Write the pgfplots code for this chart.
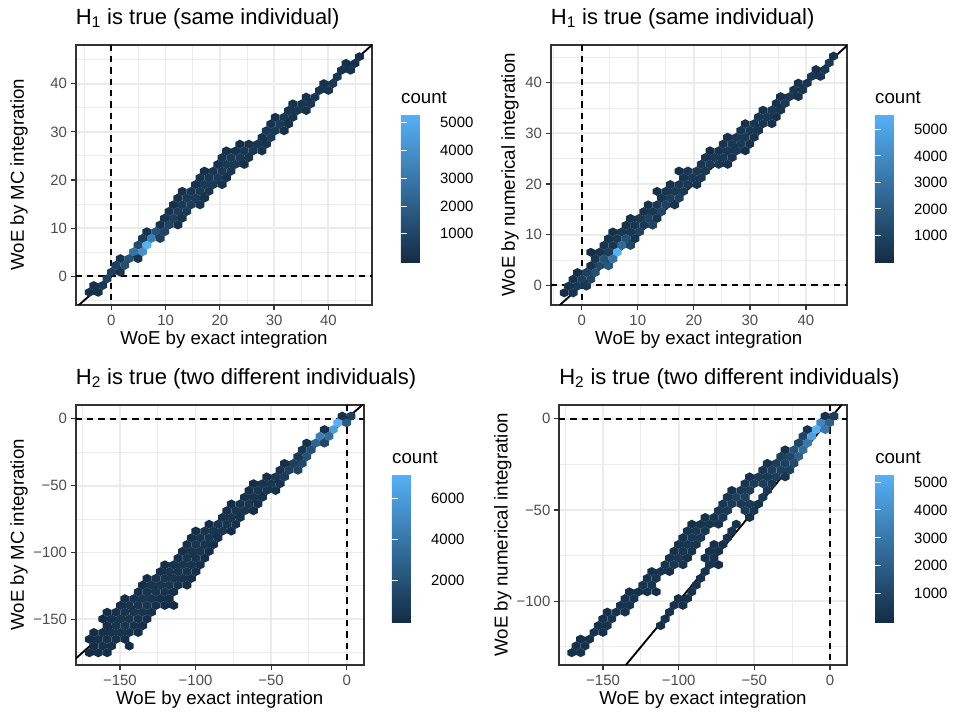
\documentclass[border=0pt]{standalone}
\usepackage{fontspec}
\setmainfont{Liberation Sans}
\usepackage{pgfplots}
\pgfplotsset{compat=1.18}
\definecolor{gmaj}{HTML}{EBEBEB}
\definecolor{gbord}{HTML}{333333}
\definecolor{gtxt}{HTML}{4D4D4D}
\pgfdeclareplotmark{hex}{%
  \pgfpathmoveto{\pgfqpoint{0pt}{3.38pt}}%
  \pgfpathlineto{\pgfqpoint{3.32pt}{1.69pt}}%
  \pgfpathlineto{\pgfqpoint{3.32pt}{-1.69pt}}%
  \pgfpathlineto{\pgfqpoint{0pt}{-3.38pt}}%
  \pgfpathlineto{\pgfqpoint{-3.32pt}{-1.69pt}}%
  \pgfpathlineto{\pgfqpoint{-3.32pt}{1.69pt}}%
  \pgfpathclose\pgfusepathqfill}
\newcommand{\tfont}{\fontsize{11.2}{13}\selectfont}
\newcommand{\afont}{\fontsize{14}{16}\selectfont}
\pgfplotsset{
  gg/.style={
    scale only axis, anchor=south west, height=195.2pt,
    axis line style={gbord,line width=1.36pt},
    tick pos=lower, tick align=outside,
    major tick length=3.5pt, minor tick length=0pt,
    major tick style={gbord,line width=0.9pt},
    grid=both,
    major grid style={gmaj,line width=1.36pt},
    minor grid style={gmaj,line width=0.68pt},
    xticklabel style={font=\tfont,text=gtxt,inner sep=0pt,yshift=-4pt},
    yticklabel style={font=\tfont,text=gtxt,inner sep=0pt,xshift=-2.8pt},
    xlabel={WoE by exact integration},
    xlabel style={font=\afont,inner sep=0pt,anchor=base,at={([yshift=-30pt]axis description cs:0.5,0)}},
    title style={font=\fontsize{16.5}{20}\selectfont,inner sep=0pt,anchor=base west,at={([yshift=9.4pt]axis description cs:0,1)}},
    colormap={gg}{rgb255=(19,43,67) rgb255=(86,177,247)},
    colormap name=gg,
    colorbar,
    colorbar shift/.style={},
  },
  cb/.style n args={2}{
    scale only axis, width=22.5pt, height=111.5pt,
    at={(parent axis.north east)}, anchor=north west, xshift=#1, yshift=-52pt,
    axis line style={draw=none},
    ytick=#2, yticklabels=#2,
    tick align=inside, ytick pos=both, yticklabel pos=right,
    major tick length=4.5pt,
    major tick style={white,line width=0.75pt},
    yticklabel style={font=\tfont,inner sep=0pt,xshift=6.7pt,anchor=west},
    title={count},
    title style={font=\afont,inner sep=0pt,anchor=base west,at={([yshift=1.75pt]axis description cs:0,1)}},
  },
  hexes/.style={scatter,only marks,mark=hex,scatter src=explicit,forget plot},
  ref/.style={black,line width=1.4pt,no markers,forget plot},
  dsh/.style={black,line width=1.4pt,dash pattern=on 4.8pt off 3.7pt,no markers,forget plot},
}
\begin{document}
\begin{tikzpicture}
\path[use as bounding box] (0pt,0pt) rectangle (715.5pt,535.5pt);
% ---------- panel 1 ----------
\begin{axis}[gg,at={(56.78pt,306.75pt)},width=222.45pt,
  xmin=-6.56,xmax=48.1,ymin=-5.96,ymax=48.1,
  xtick={0,10,20,30,40},xticklabels={0,10,20,30,40},
  ytick={0,10,20,30,40},yticklabels={0,10,20,30,40},
  minor xtick={-5,5,15,25,35,45},minor ytick={-5,5,15,25,35,45},
  ylabel={WoE by MC integration},
  ylabel style={font=\afont,inner sep=0pt,anchor=base,at={([xshift=-38.8pt]axis description cs:0,0.5)}},
  title={H\textsubscript{1} is true (same individual)},
  point meta min=-40,point meta max=5312,
  colorbar style={cb={21.5pt}{{1000,2000,3000,4000,5000}}},
]
\addplot[hexes] table[meta=c]{
x y c
45.71 45.61 100
44.89 44.21 250
43.26 44.21 150
44.08 42.81 300
42.45 42.81 250
41.63 41.42 400
40.82 40.02 400
39.18 40.02 200
40.00 38.62 350
38.37 38.62 300
37.55 37.22 450
35.92 37.22 200
36.74 35.82 400
35.11 35.82 350
33.47 35.82 150
35.92 34.43 250
34.29 34.43 450
32.66 34.43 300
33.47 33.03 300
31.84 33.03 400
30.21 33.03 200
32.66 31.63 200
31.03 31.63 500
29.40 31.63 300
31.84 30.23 200
30.21 30.23 500
28.58 30.23 450
29.40 28.83 550
27.76 28.83 300
28.58 27.44 300
26.95 27.44 350
25.32 27.44 250
23.69 27.44 150
27.76 26.04 250
26.13 26.04 400
24.50 26.04 400
22.87 26.04 300
21.24 26.04 150
25.32 24.64 350
23.69 24.64 500
22.05 24.64 500
20.42 24.64 250
24.50 23.24 200
22.87 23.24 500
21.24 23.24 500
19.61 23.24 200
22.05 21.84 400
20.42 21.84 500
18.79 21.84 400
17.16 21.84 150
21.24 20.45 250
19.61 20.45 500
17.98 20.45 450
16.34 20.45 250
20.42 19.05 200
18.79 19.05 550
17.16 19.05 500
15.53 19.05 250
17.98 17.65 350
16.34 17.65 500
14.71 17.65 450
13.08 17.65 200
17.16 16.25 200
15.53 16.25 550
13.90 16.25 500
12.27 16.25 200
16.34 14.85 200
14.71 14.85 600
13.08 14.85 500
11.45 14.85 200
13.90 13.46 500
12.27 13.46 650
10.63 13.46 300
13.08 12.06 350
11.45 12.06 800
9.82 12.06 250
12.27 10.66 200
10.63 10.66 900
9.00 10.66 250
9.82 9.26 900
8.19 9.26 1500
6.56 9.26 200
9.00 7.86 800
7.37 7.86 3200
5.74 7.86 600
6.56 6.47 5300
4.93 6.47 1200
5.74 5.07 4000
4.11 5.07 2800
4.93 3.67 300
3.29 3.67 1500
1.66 3.67 300
2.48 2.27 1300
0.85 2.27 800
1.66 0.87 300
0.03 0.87 700
-0.79 -0.52 800
-1.60 -1.92 400
-3.23 -1.92 200
-2.42 -3.32 200
-4.05 -3.32 150
};
\addplot[ref] coordinates {(-6.56,-6.56)(48.1,48.1)};
\addplot[dsh] coordinates {(-6.56,0)(48.1,0)};
\addplot[dsh] coordinates {(0,48.1)(0,-5.96)};
\end{axis}
% ---------- panel 2 ----------
\begin{axis}[gg,at={(413pt,306.75pt)},width=222.2pt,
  xmin=-5.53,xmax=47.3,ymin=-3.88,ymax=47.5,
  xtick={0,10,20,30,40},xticklabels={0,10,20,30,40},
  ytick={0,10,20,30,40},yticklabels={0,10,20,30,40},
  minor xtick={-5,5,15,25,35,45},minor ytick={5,15,25,35,45},
  ylabel={WoE by numerical integration},
  ylabel style={font=\afont,inner sep=0pt,anchor=base,at={([xshift=-26.8pt]axis description cs:0,0.5)}},
  title={H\textsubscript{1} is true (same individual)},
  point meta min=-31,point meta max=5579,
  colorbar style={cb={21pt}{{1000,2000,3000,4000,5000}}},
]
\addplot[hexes] table[meta=c]{
x y c
44.93 45.26 300
44.14 43.92 500
43.36 42.59 400
41.78 42.59 150
42.57 41.25 300
41.00 41.25 400
40.21 39.92 400
38.63 39.92 200
39.42 38.58 400
37.84 38.58 350
38.63 37.25 200
37.06 37.25 450
35.48 37.25 200
36.27 35.91 500
34.69 35.91 300
35.48 34.58 300
33.91 34.58 500
32.33 34.58 200
34.69 33.24 200
33.12 33.24 500
31.54 33.24 400
33.91 31.91 200
32.33 31.91 400
30.76 31.91 450
29.18 31.91 200
31.54 30.57 350
29.97 30.57 500
28.39 30.57 400
30.76 29.23 300
29.18 29.23 550
27.61 29.23 450
26.03 29.23 200
29.97 27.90 200
28.39 27.90 550
26.82 27.90 500
25.24 27.90 300
29.18 26.56 150
27.61 26.56 500
26.03 26.56 450
24.46 26.56 350
22.88 26.56 150
26.82 25.23 350
25.24 25.23 500
23.67 25.23 500
22.09 25.23 300
26.03 23.89 200
24.46 23.89 450
22.88 23.89 550
21.31 23.89 350
22.09 22.56 500
20.52 22.56 500
18.94 22.56 400
17.37 22.56 150
21.31 21.22 500
19.73 21.22 500
18.16 21.22 300
20.52 19.89 300
18.94 19.89 500
17.37 19.89 450
15.79 19.89 200
18.16 18.55 500
16.58 18.55 500
15.01 18.55 350
13.43 18.55 150
17.37 17.22 800
15.79 17.22 700
14.22 17.22 400
16.58 15.88 300
15.01 15.88 900
13.43 15.88 450
11.86 15.88 200
14.22 14.54 1000
12.64 14.54 500
11.07 14.54 300
13.43 13.21 300
11.86 13.21 900
10.28 13.21 500
8.71 13.21 200
12.64 11.87 1000
11.07 11.87 500
9.49 11.87 350
7.92 11.87 200
10.28 10.54 900
8.71 10.54 500
7.13 10.54 450
5.56 10.54 200
9.49 9.20 300
7.92 9.20 1500
6.34 9.20 500
4.77 9.20 300
8.71 7.87 1000
7.13 7.87 2500
5.56 7.87 400
3.98 7.87 350
6.34 6.53 5500
4.77 6.53 700
3.19 6.53 350
1.62 6.53 150
5.56 5.20 3000
3.98 5.20 1500
2.41 5.20 350
4.77 3.86 1800
3.19 3.86 1200
1.62 3.86 300
2.41 2.53 1500
0.83 2.53 800
-0.75 2.53 150
1.62 1.19 900
0.04 1.19 800
-1.53 1.19 250
0.83 -0.15 500
-0.75 -0.15 500
-2.32 -0.15 250
-1.53 -1.48 300
-3.11 -1.48 150
};
\addplot[ref] coordinates {(-5.53,-5.53)(47.5,47.5)};
\addplot[dsh] coordinates {(-5.53,0)(47.3,0)};
\addplot[dsh] coordinates {(0,47.5)(0,-3.88)};
\end{axis}
% ---------- panel 3 ----------
\begin{axis}[gg,at={(56.78pt,36.75pt)},width=216pt,
  xmin=-179.3,xmax=11.25,ymin=-184.1,ymax=10.47,
  xtick={-150,-100,-50,0},xticklabels={−150,−100,−50,0},
  ytick={-150,-100,-50,0},yticklabels={−150,−100,−50,0},
  minor xtick={-175,-125,-75,-25},minor ytick={-175,-125,-75,-25},
  ylabel={WoE by MC integration},
  ylabel style={font=\afont,inner sep=0pt,anchor=base,at={([xshift=-38.8pt]axis description cs:0,0.5)}},
  title={H\textsubscript{2} is true (two different individuals)},
  point meta min=-32,point meta max=7161,
  colorbar style={cb={21.2pt}{{2000,4000,6000}}},
]
\addplot[hexes] table[meta=c]{
x y c
2.87 1.99 1000
-3.00 1.99 300
-0.07 -3.07 2500
-5.93 -3.07 7100
-8.87 -8.12 6000
-14.74 -8.12 300
-11.80 -13.18 3500
-17.67 -13.18 4500
-14.74 -18.23 1500
-20.60 -18.23 3000
-26.47 -18.23 200
-23.54 -23.29 2000
-29.41 -23.29 600
-26.47 -28.35 2000
-32.34 -28.35 700
-29.41 -33.40 1500
-35.27 -33.40 1000
-41.14 -33.40 200
-32.34 -38.46 1200
-38.21 -38.46 1000
-44.08 -38.46 400
-41.14 -43.51 800
-47.01 -43.51 600
-52.88 -43.51 200
-44.08 -48.57 400
-49.94 -48.57 550
-55.81 -48.57 350
-61.68 -48.57 150
-47.01 -53.63 300
-52.88 -53.63 500
-58.75 -53.63 450
-64.61 -53.63 250
-55.81 -58.68 300
-61.68 -58.68 500
-67.55 -58.68 300
-58.75 -63.74 300
-64.61 -63.74 500
-70.48 -63.74 400
-76.35 -63.74 150
-61.68 -68.79 150
-67.55 -68.79 500
-73.42 -68.79 450
-79.28 -68.79 250
-70.48 -73.85 300
-76.35 -73.85 500
-82.22 -73.85 350
-73.42 -78.91 250
-79.28 -78.91 500
-85.15 -78.91 450
-91.02 -78.91 150
-76.35 -83.96 150
-82.22 -83.96 450
-88.09 -83.96 500
-93.95 -83.96 350
-99.82 -83.96 150
-85.15 -89.02 300
-91.02 -89.02 500
-96.89 -89.02 450
-102.76 -89.02 200
-88.09 -94.07 250
-93.95 -94.07 500
-99.82 -94.07 500
-105.69 -94.07 250
-91.02 -99.13 150
-96.89 -99.13 450
-102.76 -99.13 500
-108.62 -99.13 300
-93.95 -104.19 150
-99.82 -104.19 400
-105.69 -104.19 500
-111.56 -104.19 250
-96.89 -109.24 200
-102.76 -109.24 400
-108.62 -109.24 500
-114.49 -109.24 400
-120.36 -109.24 150
-99.82 -114.30 150
-105.69 -114.30 350
-111.56 -114.30 500
-117.43 -114.30 450
-123.29 -114.30 250
-102.76 -119.35 150
-108.62 -119.35 300
-114.49 -119.35 500
-120.36 -119.35 500
-126.23 -119.35 400
-132.10 -119.35 150
-105.69 -124.41 150
-111.56 -124.41 300
-117.43 -124.41 450
-123.29 -124.41 500
-129.16 -124.41 450
-135.03 -124.41 200
-114.49 -129.47 200
-120.36 -129.47 400
-126.23 -129.47 500
-132.10 -129.47 500
-137.96 -129.47 250
-117.43 -134.52 200
-123.29 -134.52 300
-129.16 -134.52 450
-135.03 -134.52 500
-140.90 -134.52 400
-146.77 -134.52 150
-114.49 -139.58 100
-120.36 -139.58 150
-126.23 -139.58 300
-132.10 -139.58 450
-137.96 -139.58 500
-143.83 -139.58 450
-149.70 -139.58 200
-129.16 -144.63 300
-135.03 -144.63 450
-140.90 -144.63 500
-146.77 -144.63 400
-152.63 -144.63 300
-158.50 -144.63 150
-132.10 -149.69 200
-137.96 -149.69 350
-143.83 -149.69 450
-149.70 -149.69 500
-155.57 -149.69 300
-161.44 -149.69 100
-135.03 -154.75 200
-140.90 -154.75 350
-146.77 -154.75 450
-152.63 -154.75 450
-158.50 -154.75 200
-137.96 -159.80 150
-143.83 -159.80 300
-149.70 -159.80 400
-155.57 -159.80 400
-161.44 -159.80 250
-167.30 -159.80 100
-146.77 -164.86 150
-152.63 -164.86 300
-158.50 -164.86 350
-164.37 -164.86 300
-170.24 -164.86 100
-143.83 -169.91 80
-155.57 -169.91 250
-161.44 -169.91 300
-167.30 -169.91 200
-158.50 -174.97 150
-164.37 -174.97 200
-170.24 -174.97 120
};
\addplot[ref] coordinates {(-184.1,-184.1)(11.25,11.25)};
\addplot[dsh] coordinates {(-179.3,0)(11.25,0)};
\addplot[dsh] coordinates {(0,10.47)(0,-184.1)};
\end{axis}
% ---------- panel 4 ----------
\begin{axis}[gg,at={(419.25pt,36.75pt)},width=216pt,
  xmin=-179.1,xmax=11.2,ymin=-134.9,ymax=7.66,
  xtick={-150,-100,-50,0},xticklabels={−150,−100,−50,0},
  ytick={-100,-50,0},yticklabels={−100,−50,0},
  minor xtick={-175,-125,-75,-25},minor ytick={-125,-75,-25},
  ylabel={WoE by numerical integration},
  ylabel style={font=\afont,inner sep=0pt,anchor=base,at={([xshift=-38.5pt]axis description cs:0,0.5)}},
  title={H\textsubscript{2} is true (two different individuals)},
  point meta min=-39,point meta max=5287,
  colorbar style={cb={21pt}{{1000,2000,3000,4000,5000}}},
]
\addplot[hexes] table[meta=c]{
x y c
-3.23 1.46 200
2.64 1.46 600
-6.17 -2.24 3500
-0.30 -2.24 2000
-14.99 -5.95 300
-9.11 -5.95 5200
-3.23 -5.95 3000
-17.92 -9.65 900
-12.05 -9.65 4500
-20.86 -13.35 1000
-14.99 -13.35 3000
-29.67 -17.06 150
-23.80 -17.06 1500
-17.92 -17.06 2500
-32.61 -20.76 700
-26.74 -20.76 1000
-20.86 -20.76 2000
-41.43 -24.46 200
-35.55 -24.46 700
-29.67 -24.46 800
-23.80 -24.46 1200
-44.36 -28.16 400
-38.49 -28.16 650
-32.61 -28.16 800
-26.74 -28.16 800
-53.18 -31.87 200
-47.30 -31.87 500
-41.43 -31.87 500
-35.55 -31.87 700
-29.67 -31.87 300
-56.12 -35.57 350
-50.24 -35.57 650
-44.36 -35.57 600
-38.49 -35.57 400
-64.93 -39.27 200
-59.05 -39.27 500
-53.18 -39.27 600
-41.43 -39.27 400
-67.87 -42.98 350
-61.99 -42.98 800
-56.12 -42.98 700
-44.36 -42.98 400
-70.81 -46.68 400
-64.93 -46.68 500
-59.05 -46.68 400
-53.18 -46.68 500
-47.30 -46.68 300
-73.74 -50.38 400
-67.87 -50.38 500
-56.12 -50.38 500
-50.24 -50.38 350
-82.56 -54.09 200
-76.68 -54.09 350
-70.81 -54.09 450
-53.18 -54.09 200
-91.37 -57.79 150
-85.50 -57.79 300
-79.62 -57.79 300
-73.74 -57.79 250
-61.99 -57.79 300
-94.31 -61.49 300
-88.43 -61.49 400
-82.56 -61.49 350
-64.93 -61.49 300
-97.25 -65.19 300
-91.37 -65.19 450
-85.50 -65.19 400
-67.87 -65.19 250
-100.19 -68.90 250
-94.31 -68.90 450
-88.43 -68.90 300
-76.68 -68.90 150
-70.81 -68.90 200
-103.12 -72.60 150
-97.25 -72.60 350
-91.37 -72.60 200
-79.62 -72.60 200
-73.74 -72.60 200
-106.06 -76.30 300
-100.19 -76.30 400
-94.31 -76.30 150
-82.56 -76.30 200
-76.68 -76.30 200
-109.00 -80.01 300
-103.12 -80.01 400
-97.25 -80.01 200
-79.62 -80.01 300
-73.74 -80.01 100
-117.81 -83.71 150
-111.94 -83.71 300
-106.06 -83.71 200
-82.56 -83.71 250
-120.75 -87.41 250
-114.88 -87.41 300
-85.50 -87.41 200
-123.69 -91.12 300
-117.81 -91.12 300
-88.43 -91.12 250
-132.50 -94.82 150
-126.63 -94.82 200
-120.75 -94.82 300
-114.88 -94.82 100
-91.37 -94.82 250
-135.44 -98.52 250
-129.57 -98.52 300
-100.19 -98.52 150
-94.31 -98.52 250
-138.38 -102.22 300
-132.50 -102.22 300
-103.12 -102.22 250
-97.25 -102.22 150
-147.19 -105.93 100
-141.32 -105.93 300
-135.44 -105.93 200
-106.06 -105.93 250
-150.13 -109.63 250
-144.26 -109.63 300
-109.00 -109.63 200
-153.07 -113.33 200
-147.19 -113.33 250
-111.94 -113.33 150
-156.01 -117.04 250
-150.13 -117.04 200
-164.82 -120.74 100
-158.95 -120.74 200
-167.76 -124.44 250
-161.88 -124.44 200
-170.70 -128.15 150
-164.82 -128.15 200
};
\addplot[ref] coordinates {(-134.9,-134.9)(7.66,7.66)};
\addplot[dsh] coordinates {(-179.1,0)(11.2,0)};
\addplot[dsh] coordinates {(0,7.66)(0,-134.9)};
\end{axis}
\end{tikzpicture}
\end{document}
